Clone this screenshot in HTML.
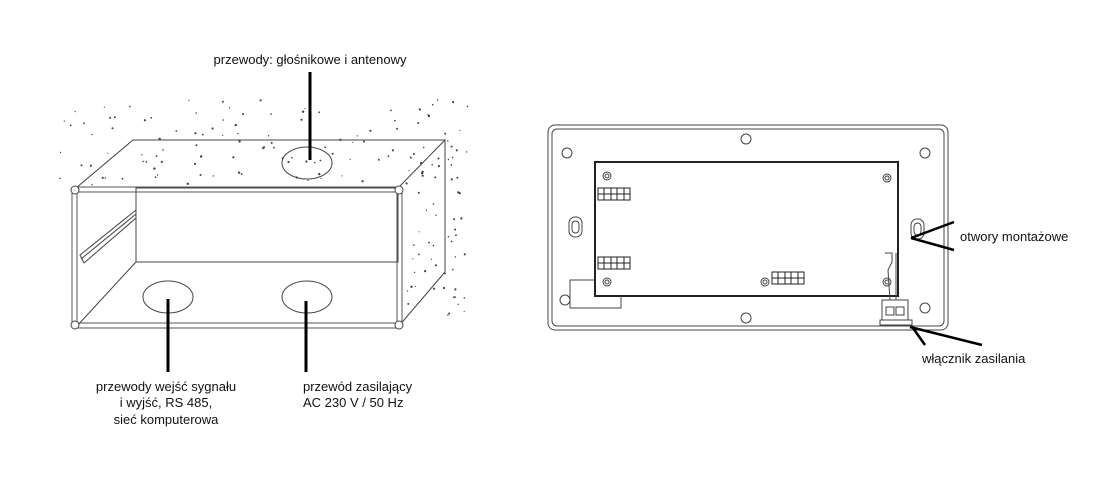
<!DOCTYPE html>
<html><head><meta charset="utf-8"><style>
html,body{margin:0;padding:0;background:#fff;}
svg{display:block;}
text{font-family:"Liberation Sans","DejaVu Sans",sans-serif;font-size:13px;fill:#111;}
</style></head><body>
<svg id="s" width="1100" height="500" viewBox="0 0 1100 500" xmlns="http://www.w3.org/2000/svg">
<g id="dots" fill="#444"></g>
<g fill="none" stroke="#444" stroke-width="1">
  <polyline points="76,188 133,140 445,140 398,188"/>
  <line x1="445" y1="140" x2="445" y2="272"/>
  <line x1="445" y1="272" x2="398" y2="327"/>
  <rect x="136" y="188" width="262" height="74"/>
  <line x1="76" y1="327" x2="136" y2="262"/>
  <rect x="72" y="187" width="330" height="5" rx="2" stroke="#555"/>
  <rect x="72" y="323" width="330" height="5" rx="2" stroke="#555"/>
  <rect x="72" y="187" width="5" height="141" rx="2" stroke="#555"/>
  <rect x="397" y="187" width="5" height="141" rx="2" stroke="#555"/>
  <circle cx="75" cy="190" r="4" fill="#fff"/><circle cx="399" cy="190" r="4" fill="#fff"/>
  <circle cx="75" cy="325" r="4" fill="#fff"/><circle cx="399" cy="325" r="4" fill="#fff"/>
  <polygon points="80,255 136,210 136,218 84,263"/>
  <line x1="81" y1="259" x2="136" y2="214"/>
  <ellipse cx="307" cy="163" rx="25" ry="16"/>
  <ellipse cx="168" cy="297" rx="25" ry="16"/>
  <ellipse cx="307" cy="297" rx="25" ry="16"/>
</g>
<g stroke="#000" stroke-width="3">
  <line x1="310" y1="72" x2="310" y2="160"/>
  <line x1="168" y1="299" x2="168" y2="372"/>
  <line x1="306" y1="301" x2="306" y2="372"/>
</g>
<text x="310" y="64" text-anchor="middle">przewody: głośnikowe i antenowy</text>
<text x="166" y="391" text-anchor="middle">przewody wejść sygnału</text>
<text x="166" y="407" text-anchor="middle">i wyjść, RS 485,</text>
<text x="166" y="424" text-anchor="middle">sieć komputerowa</text>
<text x="303" y="391">przewód zasilający</text>
<text x="303" y="407">AC 230 V / 50 Hz</text>

<g fill="none" stroke="#444" stroke-width="1">
  <rect x="548" y="125" width="400" height="205" rx="7"/>
  <rect x="552" y="129" width="392" height="197" rx="5"/>
  <rect x="595" y="162" width="303" height="134" stroke="#222" stroke-width="2"/>
  <circle cx="746" cy="139" r="5"/><circle cx="746" cy="318" r="5"/>
  <circle cx="567" cy="153" r="5"/><circle cx="925" cy="153" r="5"/>
  <circle cx="565" cy="300" r="5"/><circle cx="925" cy="308" r="5"/>
  <rect x="569" y="217" width="13" height="20" rx="6"/><rect x="572" y="221" width="7" height="12" rx="3.5"/>
  <rect x="911" y="219" width="13" height="20" rx="6"/><rect x="914" y="223" width="7" height="12" rx="3.5"/>
  <circle cx="607" cy="176" r="4"/><circle cx="607" cy="176" r="2"/>
  <circle cx="887" cy="178" r="4"/><circle cx="887" cy="178" r="2"/>
  <circle cx="607" cy="282" r="4"/><circle cx="607" cy="282" r="2"/>
  <circle cx="887" cy="282" r="4"/><circle cx="887" cy="282" r="2"/>
  <circle cx="765" cy="282" r="4"/><circle cx="765" cy="282" r="2"/>
  <polyline points="595,280 570,280 570,308 621,308 621,296"/>
  <rect x="882" y="300" width="26" height="20"/>
  <rect x="886" y="307" width="8" height="8"/><rect x="896" y="307" width="8" height="8"/>
  <rect x="880" y="320" width="32" height="5"/>
  <path d="M885 253 L892 253 L892 262 L888 270 L890 300" />
  <line x1="896" y1="253" x2="896" y2="300"/>
</g>
<g fill="none" stroke="#222" stroke-width="1">
  <g id="c1"><rect x="598" y="188" width="32" height="12"/><line x1="598" y1="194" x2="630" y2="194"/><line x1="604" y1="188" x2="604" y2="200"/><line x1="611" y1="188" x2="611" y2="200"/><line x1="617" y1="188" x2="617" y2="200"/><line x1="624" y1="188" x2="624" y2="200"/></g>
  <use href="#c1" y="69"/>
  <use href="#c1" x="174" y="84"/>
</g>
<g stroke="#000" stroke-width="2.5">
  <line x1="911" y1="238" x2="954" y2="222"/>
  <line x1="911" y1="238" x2="954" y2="250"/>
  <line x1="913" y1="328" x2="925" y2="345"/>
  <line x1="910" y1="327" x2="982" y2="345"/>
</g>
<text x="960" y="241">otwory montażowe</text>
<text x="922" y="363">włącznik zasilania</text>
</svg>
<script>
(function(){
  var g=document.getElementById('dots');var seed=7;
  function r(){seed=(seed*16807)%2147483647;return seed/2147483647;}
  var ns='http://www.w3.org/2000/svg';
  function add(x,y){var c=document.createElementNS(ns,'circle');c.setAttribute('cx',x.toFixed(1));c.setAttribute('cy',y.toFixed(1));c.setAttribute('r',(0.6+r()*0.6).toFixed(1));g.appendChild(c);}
  for(var i=0;i<115;i++){
    var x=60+r()*410,y=100+r()*85;
    if(y<=186) add(x,y);}
  for(var j=0;j<50;j++){
    var y2=150+r()*170,x2=405+r()*62; add(x2,y2);}
})();
</script>
</body></html>
